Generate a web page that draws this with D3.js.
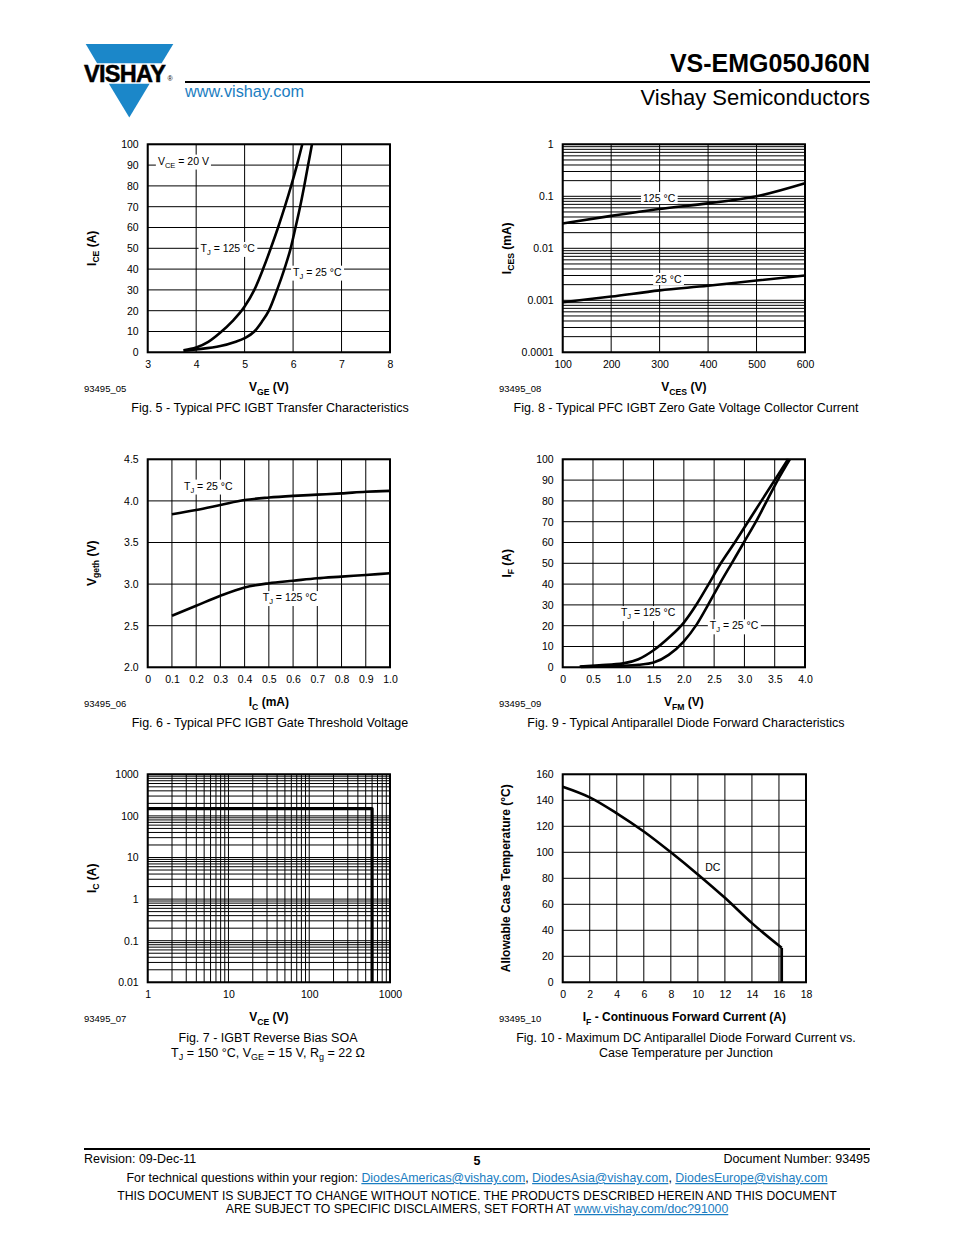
<!DOCTYPE html>
<html><head><meta charset="utf-8">
<script src="https://cdn.jsdelivr.net/npm/d3@7"></script>
<style>body{margin:0;background:#fff} svg{display:block}</style>
</head><body><svg id="page" width="954" height="1235"></svg>
<script>
// ---------------- DATA ----------------
// Fig. 5 Transfer characteristics  [VGE (V), ICE (A)]
const fig5XTicks = [3, 4, 5, 6, 7, 8];
const fig5YTicks = [0, 10, 20, 30, 40, 50, 60, 70, 80, 90, 100];
const fig5Tj125 = [[3.74,1.0],[4.0,2.3],[4.25,5.0],[4.5,9.5],[4.75,15],[5.0,22],[5.2,30],[5.38,40],[5.54,50],[5.69,60],[5.83,70],[5.96,80],[6.08,90],[6.19,100]];
const fig5Tj25  = [[3.74,0.8],[4.0,1.4],[4.5,3.0],[4.8,5.0],[5.0,6.8],[5.2,10],[5.35,14.5],[5.5,20],[5.67,30],[5.82,40],[5.95,50],[6.05,60],[6.145,70],[6.23,80],[6.31,90],[6.39,100]];

// Fig. 8 Zero gate voltage collector current [VCES (V), ICES (mA)]
const fig8XTicks = [100, 200, 300, 400, 500, 600];
const fig8YTicks = [0.0001, 0.001, 0.01, 0.1, 1];
const fig8YLabels = ["0.0001", "0.001", "0.01", "0.1", "1"];
const fig8Tc125 = [[100,0.030],[200,0.042],[300,0.057],[400,0.073],[500,0.100],[600,0.178]];
const fig8Tc25  = [[100,0.00092],[200,0.00118],[300,0.00155],[400,0.0019],[500,0.0024],[600,0.0030]];

// Fig. 6 Gate threshold voltage [IC (mA), Vgeth (V)]
const fig6XTicks = [0, 0.1, 0.2, 0.3, 0.4, 0.5, 0.6, 0.7, 0.8, 0.9, 1.0];
const fig6XLabels = ["0","0.1","0.2","0.3","0.4","0.5","0.6","0.7","0.8","0.9","1.0"];
const fig6YTicks = [2.0, 2.5, 3.0, 3.5, 4.0, 4.5];
const fig6YLabels = ["2.0","2.5","3.0","3.5","4.0","4.5"];
const fig6Tj25  = [[0.1,3.84],[0.2,3.89],[0.3,3.95],[0.4,4.01],[0.5,4.04],[0.6,4.06],[0.7,4.075],[0.8,4.09],[0.9,4.11],[1.0,4.12]];
const fig6Tj125 = [[0.1,2.62],[0.2,2.74],[0.3,2.86],[0.4,2.96],[0.5,3.01],[0.6,3.04],[0.7,3.07],[0.8,3.09],[0.9,3.11],[1.0,3.13]];

// Fig. 9 Diode forward characteristics [VFM (V), IF (A)]
const fig9XTicks = [0, 0.5, 1.0, 1.5, 2.0, 2.5, 3.0, 3.5, 4.0];
const fig9XLabels = ["0","0.5","1.0","1.5","2.0","2.5","3.0","3.5","4.0"];
const fig9YTicks = [0, 10, 20, 30, 40, 50, 60, 70, 80, 90, 100];
const fig9Tj125 = [[0.28,0.4],[0.6,1.0],[1.0,1.9],[1.25,3.9],[1.5,8.2],[1.75,14.2],[2.0,21.5],[2.2,29.8],[2.4,39.5],[2.61,50],[2.84,60],[3.06,70],[3.28,80],[3.50,90],[3.72,100]];
const fig9Tj25  = [[0.30,0.2],[1.0,0.7],[1.25,1.2],[1.5,2.3],[1.75,6.0],[2.0,12.5],[2.21,20.5],[2.40,30],[2.59,40],[2.79,50],[2.99,60],[3.19,70],[3.37,80],[3.55,90],[3.75,100]];

// Fig. 7 Reverse bias SOA [VCE (V), IC (A)]
const fig7XTicks = [1, 10, 100, 1000];
const fig7YTicks = [0.01, 0.1, 1, 10, 100, 1000];
const fig7YLabels = ["0.01","0.1","1","10","100","1000"];
const fig7Soa = [[1,150],[600,150],[600,0.01]];

// Fig. 10 Max DC diode forward current vs case temperature [IF (A), TC (°C)]
const fig10XTicks = [0, 2, 4, 6, 8, 10, 12, 14, 16, 18];
const fig10YTicks = [0, 20, 40, 60, 80, 100, 120, 140, 160];
const fig10Dc = [[0,150.5],[2,142.3],[4,130],[6,116],[8,100],[10,83],[12,65],[14,45.5],[16.2,26.5]];
const fig10Drop = [[16.2,26.5],[16.2,0]];

// ---------------- DRAWING ----------------
const FONT = '"Liberation Sans", Arial, Helvetica, sans-serif';
const BLUE = '#1b87c9';
const LINK = '#1a7dc1';
const svg = d3.select('#page');

function rich(sel, parts, size) {
  let prevSub = false;
  parts.forEach(p => {
    const t = sel.append('tspan').text(p[0]);
    const sub = !!p[1];
    if (sub) { t.attr('font-size', size * 0.72).attr('dy', size * 0.28); }
    else if (prevSub) { t.attr('dy', -size * 0.28); }
    prevSub = sub;
  });
  return sel;
}

function txt(x, y, s, o = {}) {
  const t = svg.append('text').attr('x', x).attr('y', y)
    .attr('font-family', FONT).attr('font-size', o.size || 12)
    .attr('fill', o.fill || '#000')
    .attr('text-anchor', o.anchor || 'start')
    .attr('font-weight', o.bold ? 'bold' : 'normal');
  if (Array.isArray(s)) rich(t, s, o.size || 12); else t.text(s);
  return t;
}

function chart(o) {
  const g = svg.append('g');
  const x = o.x, y = o.y;
  const [x0, x1] = x.range(), [y0, y1] = y.range();
  // grid
  g.append('g').selectAll('line').data(o.xGrid).join('line')
    .attr('x1', d => x(d)).attr('x2', d => x(d)).attr('y1', y0).attr('y2', y1)
    .attr('stroke', '#000').attr('stroke-width', 1);
  g.append('g').selectAll('line').data(o.yGrid).join('line')
    .attr('y1', d => y(d)).attr('y2', d => y(d)).attr('x1', x0).attr('x2', x1)
    .attr('stroke', '#000').attr('stroke-width', 1);
  // frame
  g.append('rect').attr('x', x0).attr('y', y1).attr('width', x1 - x0).attr('height', y0 - y1)
    .attr('fill', 'none').attr('stroke', '#000').attr('stroke-width', 2);
  // axes (labels only)
  const ax = g.append('g').attr('transform', `translate(${x0},0)`)
    .call(d3.axisLeft(y).tickValues(o.yTicks).tickFormat((d, i) => o.yLabels ? o.yLabels[i] : d3.format('d')(d)).tickSize(0).tickPadding(9));
  const bx = g.append('g').attr('transform', `translate(0,${y0})`)
    .call(d3.axisBottom(x).tickValues(o.xTicks).tickFormat((d, i) => o.xLabels ? o.xLabels[i] : d3.format('d')(d)).tickSize(0).tickPadding(8));
  [ax, bx].forEach(a => {
    a.select('.domain').remove();
    a.attr('font-family', FONT).attr('font-size', 10.5);
    a.selectAll('text').attr('fill', '#000');
  });
  // series
  (o.series || []).forEach(s => {
    const line = d3.line().x(d => x(d[0])).y(d => y(d[1])).curve(s.curve || d3.curveMonotoneX);
    g.append('path').datum(s.data).attr('d', line).attr('fill', 'none')
      .attr('stroke', '#000').attr('stroke-width', s.width || 2.6)
      .attr('stroke-linejoin', 'round').attr('stroke-linecap', 'butt');
  });
  // annotations
  (o.notes || []).forEach(n => {
    const t = g.append('text').attr('x', x(n.x)).attr('y', y(n.y)).attr('dy', '0.35em')
      .attr('font-family', FONT).attr('font-size', 10.5)
      .attr('text-anchor', n.anchor || 'start');
    rich(t, n.parts, 10.5);
    const b = t.node().getBBox();
    g.insert('rect', () => t.node()).attr('x', b.x - 2).attr('y', b.y).attr('width', b.width + 4).attr('height', b.height)
      .attr('fill', '#fff');
  });
  // axis titles
  const cx = (x0 + x1) / 2, cy = (y0 + y1) / 2;
  const yt = g.append('text').attr('transform', `translate(${o.yTitleX},${cy}) rotate(-90)`)
    .attr('text-anchor', 'middle').attr('font-family', FONT).attr('font-weight', 'bold').attr('font-size', 12);
  rich(yt, o.yTitle, 12);
  const xt = g.append('text').attr('x', o.xTitleCx || cx).attr('y', y0 + 39)
    .attr('text-anchor', 'middle').attr('font-family', FONT).attr('font-weight', 'bold').attr('font-size', 12);
  rich(xt, o.xTitle, 12);
  // figure id
  txt(o.idX, y0 + 40, o.id, { size: 9.5 });
  // caption
  o.caption.forEach((c, i) => txt(o.capCx, y0 + 60 + i * 14.5, c, { size: 12.5, anchor: 'middle' }));
}

const LX = [147.7, 390], RX = [562.7, 805];
const ROW = [[352.3, 144.3], [667.3, 459.3], [982.3, 774.3]];

// Fig. 5
chart({
  x: d3.scaleLinear().domain([3, 8]).range(LX),
  y: d3.scaleLinear().domain([0, 100]).range(ROW[0]),
  xGrid: fig5XTicks, yGrid: fig5YTicks, xTicks: fig5XTicks, yTicks: fig5YTicks,
  series: [{ data: fig5Tj125 }, { data: fig5Tj25 }],
  notes: [
    { parts: [['V'], ['CE', 1], [' = 20 V']], x: 3.21, y: 92 },
    { parts: [['T'], ['J', 1], [' = 125 °C']], x: 4.09, y: 50 },
    { parts: [['T'], ['J', 1], [' = 25 °C']], x: 6.0, y: 38.6 }
  ],
  yTitle: [['I'], ['CE', 1], [' (A)']], yTitleX: 96,
  xTitle: [['V'], ['GE', 1], [' (V)']],
  id: '93495_05', idX: 84, capCx: 270,
  caption: ['Fig. 5 - Typical PFC IGBT Transfer Characteristics']
});

// Fig. 8
const f8y = d3.scaleLog().domain([0.0001, 1]).range(ROW[0]);
chart({
  x: d3.scaleLinear().domain([100, 600]).range(RX),
  y: f8y,
  xGrid: fig8XTicks, yGrid: f8y.ticks(), xTicks: fig8XTicks, yTicks: fig8YTicks, yLabels: fig8YLabels,
  series: [{ data: fig8Tc125 }, { data: fig8Tc25 }],
  notes: [
    { parts: [['125 °C']], x: 299, y: 0.0916, anchor: 'middle' },
    { parts: [['25 °C']], x: 318, y: 0.00253, anchor: 'middle' }
  ],
  yTitle: [['I'], ['CES', 1], [' (mA)']], yTitleX: 511,
  xTitle: [['V'], ['CES', 1], [' (V)']],
  id: '93495_08', idX: 499, capCx: 686,
  caption: ['Fig. 8 - Typical PFC IGBT Zero Gate Voltage Collector Current']
});

// Fig. 6
chart({
  x: d3.scaleLinear().domain([0, 1]).range(LX),
  y: d3.scaleLinear().domain([2, 4.5]).range(ROW[1]),
  xGrid: fig6XTicks, yGrid: fig6YTicks, xTicks: fig6XTicks, xLabels: fig6XLabels, yTicks: fig6YTicks, yLabels: fig6YLabels,
  series: [{ data: fig6Tj25 }, { data: fig6Tj125 }],
  notes: [
    { parts: [['T'], ['J', 1], [' = 25 °C']], x: 0.25, y: 4.18, anchor: 'middle' },
    { parts: [['T'], ['J', 1], [' = 125 °C']], x: 0.587, y: 2.84, anchor: 'middle' }
  ],
  yTitle: [['V'], ['geth', 1], [' (V)']], yTitleX: 96,
  xTitle: [['I'], ['C', 1], [' (mA)']],
  id: '93495_06', idX: 84, capCx: 270,
  caption: ['Fig. 6 - Typical PFC IGBT Gate Threshold Voltage']
});

// Fig. 9
chart({
  x: d3.scaleLinear().domain([0, 4]).range(RX),
  y: d3.scaleLinear().domain([0, 100]).range(ROW[1]),
  xGrid: fig9XTicks, yGrid: fig9YTicks, xTicks: fig9XTicks, xLabels: fig9XLabels, yTicks: fig9YTicks,
  series: [{ data: fig9Tj125 }, { data: fig9Tj25 }],
  notes: [
    { parts: [['T'], ['J', 1], [' = 125 °C']], x: 1.41, y: 26.4, anchor: 'middle' },
    { parts: [['T'], ['J', 1], [' = 25 °C']], x: 2.83, y: 20, anchor: 'middle' }
  ],
  yTitle: [['I'], ['F', 1], [' (A)']], yTitleX: 511,
  xTitle: [['V'], ['FM', 1], [' (V)']],
  id: '93495_09', idX: 499, capCx: 686,
  caption: ['Fig. 9 - Typical Antiparallel Diode Forward Characteristics']
});

// Fig. 7
const f7x = d3.scaleLog().domain([1, 1000]).range(LX);
const f7y = d3.scaleLog().domain([0.01, 1000]).range(ROW[2]);
chart({
  x: f7x, y: f7y,
  xGrid: f7x.ticks(), yGrid: f7y.ticks(), xTicks: fig7XTicks, yTicks: fig7YTicks, yLabels: fig7YLabels,
  series: [{ data: fig7Soa, curve: d3.curveLinear, width: 3.2 }],
  notes: [],
  yTitle: [['I'], ['C', 1], [' (A)']], yTitleX: 96,
  xTitle: [['V'], ['CE', 1], [' (V)']],
  id: '93495_07', idX: 84, capCx: 268,
  caption: ['Fig. 7 - IGBT Reverse Bias SOA',
    [['T'], ['J', 1], [' = 150 °C, V'], ['GE', 1], [' = 15 V, R'], ['g', 1], [' = 22 Ω']]]
});

// Fig. 10
chart({
  x: d3.scaleLinear().domain([0, 18]).range([562.7, 806]),
  y: d3.scaleLinear().domain([0, 160]).range(ROW[2]),
  xGrid: fig10XTicks, yGrid: fig10YTicks, xTicks: fig10XTicks, yTicks: fig10YTicks,
  series: [{ data: fig10Dc }, { data: fig10Drop, curve: d3.curveLinear, width: 2.8 }],
  notes: [{ parts: [['DC']], x: 11.1, y: 88.5, anchor: 'middle' }],
  yTitle: [['Allowable Case Temperature (°C)']], yTitleX: 510,
  xTitle: [['I'], ['F', 1], [' - Continuous Forward Current (A)']],
  id: '93495_10', idX: 499, capCx: 686,
  caption: ['Fig. 10 - Maximum DC Antiparallel Diode Forward Current vs.', 'Case Temperature per Junction']
});

// ---------------- HEADER ----------------
svg.append('polygon').attr('points', '85.7,44 173.3,44 161.6,63.3 97.1,63.3').attr('fill', BLUE);
svg.append('polygon').attr('points', '108.9,83.8 149.6,83.8 129.3,117.5').attr('fill', BLUE);
txt(84, 81.5, 'VISHAY', { size: 23.5, bold: true }).attr('letter-spacing', -0.7)
  .attr('stroke', '#000').attr('stroke-width', 0.5);
txt(167.5, 81, '®', { size: 7 });
svg.append('line').attr('x1', 185).attr('x2', 870).attr('y1', 82).attr('y2', 82).attr('stroke', '#000').attr('stroke-width', 2);
txt(185, 96.5, 'www.vishay.com', { size: 16.3, fill: LINK });
txt(870, 72, 'VS-EMG050J60N', { size: 25, bold: true, anchor: 'end' });
txt(870, 105, 'Vishay Semiconductors', { size: 22, anchor: 'end' });

// ---------------- FOOTER ----------------
svg.append('line').attr('x1', 84).attr('x2', 870).attr('y1', 1149).attr('y2', 1149).attr('stroke', '#000').attr('stroke-width', 2);
txt(84, 1163, 'Revision: 09-Dec-11', { size: 12.5 });
txt(477, 1165, '5', { size: 12.5, bold: true, anchor: 'middle' });
txt(870, 1163, 'Document Number: 93495', { size: 12.5, anchor: 'end' });
const l2 = svg.append('text').attr('x', 477).attr('y', 1182).attr('text-anchor', 'middle')
  .attr('font-family', FONT).attr('font-size', 12.4);
[['For technical questions within your region: ', 0], ['DiodesAmericas@vishay.com', 1], [', ', 0],
 ['DiodesAsia@vishay.com', 1], [', ', 0], ['DiodesEurope@vishay.com', 1]].forEach(p => {
  const t = l2.append('tspan').text(p[0]);
  if (p[1]) t.attr('fill', LINK).attr('text-decoration', 'underline');
});
txt(477, 1200, 'THIS DOCUMENT IS SUBJECT TO CHANGE WITHOUT NOTICE. THE PRODUCTS DESCRIBED HEREIN AND THIS DOCUMENT', { size: 12.2, anchor: 'middle' });
const l4 = svg.append('text').attr('x', 477).attr('y', 1213).attr('text-anchor', 'middle')
  .attr('font-family', FONT).attr('font-size', 12.3);
l4.append('tspan').text('ARE SUBJECT TO SPECIFIC DISCLAIMERS, SET FORTH AT ');
l4.append('tspan').text('www.vishay.com/doc?91000').attr('fill', LINK).attr('text-decoration', 'underline');
</script>
</body></html>
